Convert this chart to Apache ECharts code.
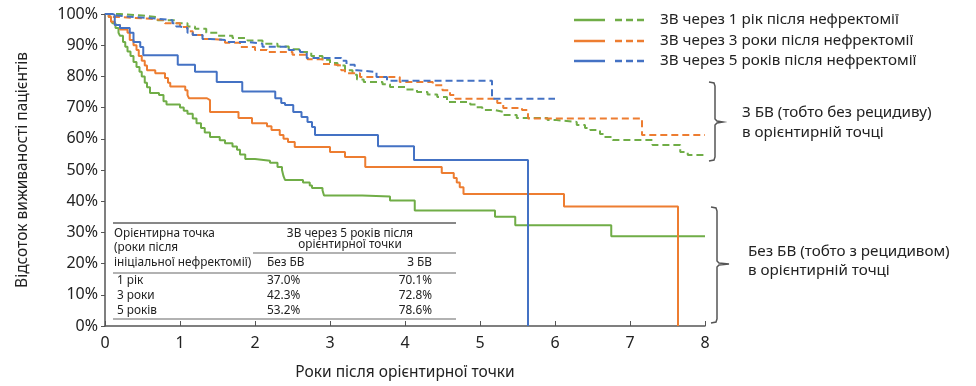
<!DOCTYPE html>
<html>
<head>
<meta charset="utf-8">
<script src="https://cdn.jsdelivr.net/npm/echarts@6/dist/echarts.min.js"></script>
<style>html,body{margin:0;padding:0;background:#fff}#c{width:976px;height:386px}</style>
</head>
<body>
<div id="c"></div>
<script>
// ---- data (years after landmark, survival %) ----
const xTicks = [0,1,2,3,4,5,6,7,8];
const seriesNames = [
  'ЗВ через 1 рік після нефректомії',
  'ЗВ через 3 роки після нефректомії',
  'ЗВ через 5 років після нефректомії'
];
// without BV (solid)
const y1NoBV = [[0,100],[0.05,99],[0.08,98],[0.1,97],[0.14,95.5],[0.18,94],[0.2,93],[0.24,91],[0.27,89.5],[0.3,88],[0.34,86.5],[0.38,84.6],[0.42,83],[0.46,81.5],[0.49,80],[0.53,78],[0.56,76.5],[0.6,74.7],[0.72,74],[0.78,72],[0.82,71],[1.0,70],[1.05,69],[1.1,68],[1.17,66.5],[1.22,65],[1.28,63.5],[1.33,62],[1.4,60.6],[1.53,59.5],[1.6,58.6],[1.7,57.5],[1.76,56.5],[1.8,55],[1.87,53.5],[2.0,53],[2.2,52.3],[2.3,51],[2.36,50],[2.38,48],[2.4,46.8],[2.64,46],[2.73,45],[2.76,44.2],[2.9,43.5],[2.92,41.8],[3.43,41.5],[3.8,40.2],[4.13,37],[5.2,35],[5.47,32.3],[6.75,28.8],[8,28.8]];
const y3NoBV = [[0,100],[0.05,99],[0.08,97.5],[0.13,96.5],[0.2,95],[0.3,94],[0.33,91.7],[0.38,90],[0.42,88.5],[0.45,86.5],[0.49,85],[0.53,83.5],[0.56,82],[0.67,81],[0.8,79.5],[0.84,78],[0.87,76.8],[1.07,75.6],[1.1,74],[1.12,73],[1.36,72.4],[1.4,68.6],[1.78,66.7],[1.96,65],[2.16,64],[2.22,62.8],[2.33,61.2],[2.38,60],[2.44,59],[2.53,57.4],[3.0,55.8],[3.2,54.2],[3.47,51],[4.49,49],[4.65,47.4],[4.69,46],[4.73,44.5],[4.78,42.3],[6.12,38.3],[7.64,0]];
const y5NoBV = [[0,100],[0.1,99.7],[0.13,96.5],[0.2,95.5],[0.33,94],[0.38,91],[0.47,89.4],[0.51,86.8],[0.97,83.7],[1.2,81.5],[1.49,78.2],[1.83,75.2],[2.27,73],[2.35,71.5],[2.4,70.8],[2.51,68.6],[2.62,67],[2.7,65.4],[2.76,63.8],[2.8,61.2],[3.64,57.6],[4.12,53.2],[5.64,0]];
// with BV (dashed)
const y1BV = [[0,100],[0.2,99.5],[0.5,99],[0.7,98],[0.95,97],[1.1,96],[1.2,95.3],[1.35,94],[1.5,93],[1.7,92.3],[1.9,91.5],[2.1,90.5],[2.3,89.6],[2.45,88.7],[2.6,87.8],[2.75,86.5],[2.9,85.3],[3.0,84.3],[3.1,83.5],[3.2,82],[3.3,80.5],[3.36,79],[3.45,78.2],[3.7,77.5],[3.8,76.6],[4.0,75.8],[4.16,75],[4.3,74.2],[4.43,73.4],[4.56,71.8],[4.87,71],[4.95,70.1],[5.03,69.2],[5.2,68.6],[5.31,67.6],[5.49,66.7],[5.9,66],[6.02,65.4],[6.29,64.4],[6.4,63.5],[6.47,62.8],[6.6,61.5],[6.64,60.6],[6.77,59.6],[7.3,58],[7.67,55.8],[7.77,54.8],[8,54.8]];
const y3BV = [[0,100],[0.07,99],[0.2,98.5],[0.6,98],[0.8,97],[1.0,95.8],[1.1,94.5],[1.17,93.3],[1.3,92],[1.4,91.7],[1.6,90.8],[1.8,89.4],[2.0,88.5],[2.16,87.8],[2.5,86.9],[2.7,85.5],[2.9,84],[3.0,83.5],[3.15,82],[3.2,81],[3.4,79.8],[3.93,78.2],[4.37,77.2],[4.5,75.6],[4.6,74],[4.67,72.8],[5.23,71.5],[5.31,69.9],[5.56,69.2],[5.64,66.5],[7.16,61.2],[8,61.2]];
const y5BV = [[0,100],[0.1,99.5],[0.15,99],[0.4,98.5],[0.7,98],[0.9,97],[0.95,96],[1.0,95.5],[1.1,94],[1.17,93.3],[1.3,92],[1.4,91.7],[1.6,91],[1.9,90.5],[2.1,89.5],[2.45,88.5],[2.6,87.8],[2.69,85.9],[3.15,85],[3.22,83.7],[3.33,82],[3.36,81.4],[3.62,79.8],[3.76,78.6],[5.16,72.8],[6.0,72.8]];
// table
const tableRows = ['1 рік','3 роки','5 років'];
const tableNoBV = ['37.0%','42.3%','53.2%'];
const tableBV = ['70.1%','72.8%','78.6%'];

const colors = ['#70AD47','#ED7D31','#4472C4'];
const FONT = '"Noto Sans", "DejaVu Sans", sans-serif';

const chart = echarts.init(document.getElementById('c'));

function line(name, data, color, dashed, z){
  return {
    name, type:'line', step:'end', data, showSymbol:false, symbol:'none',
    lineStyle:{color, width:2, type: dashed ? [7,4] : 'solid'},
    itemStyle:{color}, z: z, animation:false
  };
}

const graphic = [];
// legend
const legY = [20, 41, 61];
seriesNames.forEach((n,i)=>{
  graphic.push({type:'line', shape:{x1:574,y1:legY[i],x2:605,y2:legY[i]}, style:{stroke:colors[i], lineWidth:2.5}});
  graphic.push({type:'line', shape:{x1:615,y1:legY[i],x2:648,y2:legY[i]}, style:{stroke:colors[i], lineWidth:2.5, lineDash:[7,4]}});
  graphic.push({type:'text', x:660, y:legY[i], style:{text:n, font:'15.2px '+FONT, fill:'#222', textVerticalAlign:'middle'}});
});
// brackets
graphic.push({type:'polyline', shape:{points:[[709,82],[714,83],[715,86],[715,119],[717,121],[723,122],[717,123],[715,125],[715,157],[714,160],[709,161]]}, style:{stroke:'#555', lineWidth:1.5, fill:null}});
graphic.push({type:'polyline', shape:{points:[[711,207],[716,208],[717,211],[717,261],[719,263],[729,264],[719,265],[717,267],[717,319],[716,322],[711,323]]}, style:{stroke:'#555', lineWidth:1.5, fill:null}});
const bt = '15.2px '+FONT;
graphic.push({type:'text', x:742, y:113, style:{text:'З БВ (тобто без рецидиву)', font:bt, fill:'#222', textVerticalAlign:'middle'}});
graphic.push({type:'text', x:742, y:133, style:{text:'в орієнтирній точці', font:bt, fill:'#222', textVerticalAlign:'middle'}});
graphic.push({type:'text', x:748, y:252, style:{text:'Без БВ (тобто з рецидивом)', font:bt, fill:'#222', textVerticalAlign:'middle'}});
graphic.push({type:'text', x:748, y:271, style:{text:'в орієнтирній точці', font:bt, fill:'#222', textVerticalAlign:'middle'}});
// table
const tf = '11.8px '+FONT;
graphic.push({type:'line', shape:{x1:113,y1:223,x2:456,y2:223}, style:{stroke:'#111', lineWidth:1}});
graphic.push({type:'line', shape:{x1:253,y1:253,x2:456,y2:253}, style:{stroke:'#999', lineWidth:1.5}});
graphic.push({type:'line', shape:{x1:113,y1:273,x2:456,y2:273}, style:{stroke:'#999', lineWidth:1.5}});
graphic.push({type:'line', shape:{x1:113,y1:319,x2:456,y2:319}, style:{stroke:'#999', lineWidth:1.5}});
[['Орієнтирна точка',234],['(роки після',248],['ініціальної нефректомії)',263]].forEach(([t,y])=>{
  graphic.push({type:'text', x:114, y, style:{text:t, font:tf, fill:'#222', textVerticalAlign:'middle'}});
});
graphic.push({type:'text', x:350, y:234, style:{text:'ЗВ через 5 років після', font:tf, fill:'#222', textAlign:'center', textVerticalAlign:'middle'}});
graphic.push({type:'text', x:350, y:245, style:{text:'орієнтирної точки', font:tf, fill:'#222', textAlign:'center', textVerticalAlign:'middle'}});
graphic.push({type:'text', x:267, y:263, style:{text:'Без БВ', font:tf, fill:'#222', textVerticalAlign:'middle'}});
graphic.push({type:'text', x:432, y:263, style:{text:'З БВ', font:tf, fill:'#222', textAlign:'right', textVerticalAlign:'middle'}});
const rowY = [281, 296, 311];
tableRows.forEach((r,i)=>{
  graphic.push({type:'text', x:117, y:rowY[i], style:{text:r, font:tf, fill:'#222', textVerticalAlign:'middle'}});
  graphic.push({type:'text', x:267, y:rowY[i], style:{text:tableNoBV[i], font:tf, fill:'#222', textVerticalAlign:'middle'}});
  graphic.push({type:'text', x:432, y:rowY[i], style:{text:tableBV[i], font:tf, fill:'#222', textAlign:'right', textVerticalAlign:'middle'}});
});

chart.setOption({
  animation:false,
  textStyle:{fontFamily:FONT},
  grid:{left:105, right:271, top:14, bottom:60, containLabel:false},
  xAxis:{type:'value', min:0, max:8, interval:1,
    name:'Роки після орієнтирної точки', nameLocation:'middle', nameGap:39,
    nameTextStyle:{fontSize:15.5, color:'#222', fontFamily:FONT},
    axisLine:{lineStyle:{color:'#555', width:1.5}},
    axisTick:{inside:true, length:5, lineStyle:{color:'#555'}},
    axisLabel:{fontSize:16, color:'#222', margin:9, formatter:v=>xTicks.includes(v)?String(v):''},
    splitLine:{show:false}},
  yAxis:{type:'value', min:0, max:100, interval:10,
    name:'Відсоток виживаності пацієнтів', nameLocation:'middle', nameGap:74, nameRotate:90,
    nameTextStyle:{fontSize:15.5, color:'#222', fontFamily:FONT},
    axisLine:{show:true, lineStyle:{color:'#555', width:1.5}},
    axisTick:{show:true, length:4, lineStyle:{color:'#555'}},
    axisLabel:{fontSize:16, color:'#222', margin:7, formatter:'{value}%'},
    splitLine:{show:false}},
  series:[
    line(seriesNames[0]+' без БВ', y1NoBV, colors[0], false, 3),
    line(seriesNames[1]+' без БВ', y3NoBV, colors[1], false, 3),
    line(seriesNames[2]+' без БВ', y5NoBV, colors[2], false, 3),
    line(seriesNames[0]+' з БВ', y1BV, colors[0], true, 2),
    line(seriesNames[1]+' з БВ', y3BV, colors[1], true, 2),
    line(seriesNames[2]+' з БВ', y5BV, colors[2], true, 2)
  ],
  graphic: graphic
});
</script>
</body>
</html>
